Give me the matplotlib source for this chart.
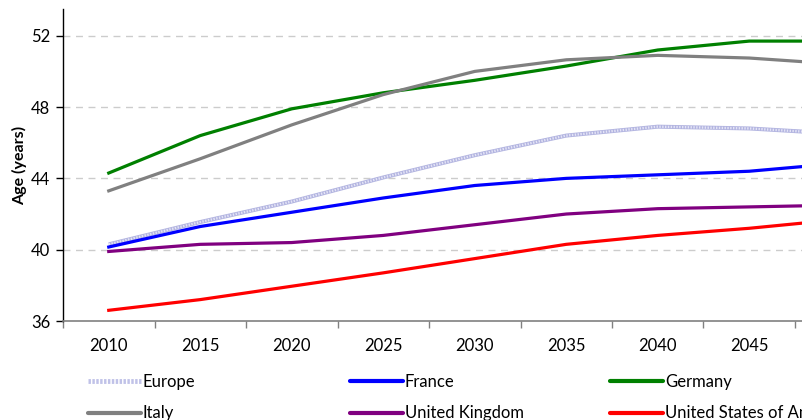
import matplotlib
matplotlib.use("Agg")
import matplotlib.pyplot as plt
from matplotlib.lines import Line2D

plt.rcParams['font.family'] = ['Lato', 'DejaVu Sans']

years = ['2010', '2015', '2020', '2025', '2030', '2035', '2040', '2045', '2050']

europe = [40.3, 41.55, 42.7, 44.05, 45.3, 46.4, 46.9, 46.8, 46.5]
france = [40.15, 41.3, 42.1, 42.9, 43.6, 44.0, 44.2, 44.4, 44.85]
germany = [44.3, 46.4, 47.9, 48.8, 49.5, 50.3, 51.2, 51.7, 51.7]
italy = [43.3, 45.1, 47.0, 48.7, 50.0, 50.65, 50.9, 50.75, 50.4]
uk = [39.9, 40.3, 40.4, 40.8, 41.4, 42.0, 42.3, 42.4, 42.5]
usa = [36.6, 37.2, 37.95, 38.7, 39.5, 40.3, 40.8, 41.2, 41.7]

fig = plt.figure(figsize=(8.02, 4.2), dpi=100)
# axes run past the right edge, last category gets cut off
ax = fig.add_axes([63 / 802, 1 - 321 / 420, 823.5 / 802, 312 / 420])

x = list(range(len(years)))
lw = 2.3

# Europe: light stippled band
ax.plot(x, europe, color='#b2b4e0', lw=lw + 0.6, solid_capstyle='butt', zorder=3)
ax.plot(x, europe, color='#e4e4f6', lw=lw - 0.6, ls=(0, (0.6, 0.6)), zorder=3)
ax.plot(x, france, color='#0000ff', lw=lw, zorder=3)
ax.plot(x, germany, color='#008000', lw=lw, zorder=3)
ax.plot(x, italy, color='#808080', lw=lw, zorder=3)
ax.plot(x, uk, color='#800080', lw=lw, zorder=3)
ax.plot(x, usa, color='#ff0000', lw=lw, zorder=3)

ax.set_xlim(-0.5, len(years) - 0.5)
ax.set_ylim(36, 53.5)
ax.set_yticks([36, 40, 44, 48, 52])
for v in [40, 44, 48, 52]:
    ax.axhline(v, color='#cccccc', lw=1, ls=(0, (5, 4)), zorder=1)

ax.set_xticks(x)
ax.set_xticklabels(years)
ax.set_xticks([i + 0.5 for i in range(-1, len(years))], minor=True)
ax.tick_params(axis='x', which='major', length=0, pad=12, labelsize=12)
ax.tick_params(axis='x', which='minor', length=5, color='#808080', width=1)
ax.tick_params(axis='y', length=5, width=1, labelsize=12, pad=4)

for s in ['top', 'right']:
    ax.spines[s].set_visible(False)
ax.spines['bottom'].set_color('#808080')
ax.spines['bottom'].set_linewidth(1.2)
ax.spines['left'].set_linewidth(1)

ax.set_ylabel('Age (years)', fontweight='bold', fontsize=11.5, labelpad=3)

# legend: three columns, two rows
def handle(color, europe_style=False):
    if europe_style:
        return Line2D([], [], color='#c0c2e8', lw=lw + 1.2, ls=(0, (0.5, 0.3)))
    return Line2D([], [], color=color, lw=lw + 0.7, solid_capstyle='round')

columns = [
    ([handle(None, True), handle('#808080')], ['Europe', 'Italy'], 88),
    ([handle('#0000ff'), handle('#800080')], ['France', 'United Kingdom'], 350),
    ([handle('#008000'), handle('#ff0000')], ['Germany', 'United States of America'], 610),
]
for hs, labels, xpix in columns:
    leg = fig.legend(hs, labels, loc='upper left',
                     bbox_to_anchor=(xpix / 802, 1 - 374 / 420),
                     frameon=False, fontsize=12, handlelength=3.2,
                     handletextpad=0.1, labelspacing=0.92, borderaxespad=0,
                     borderpad=0)

fig.savefig('out.png', dpi=100)
